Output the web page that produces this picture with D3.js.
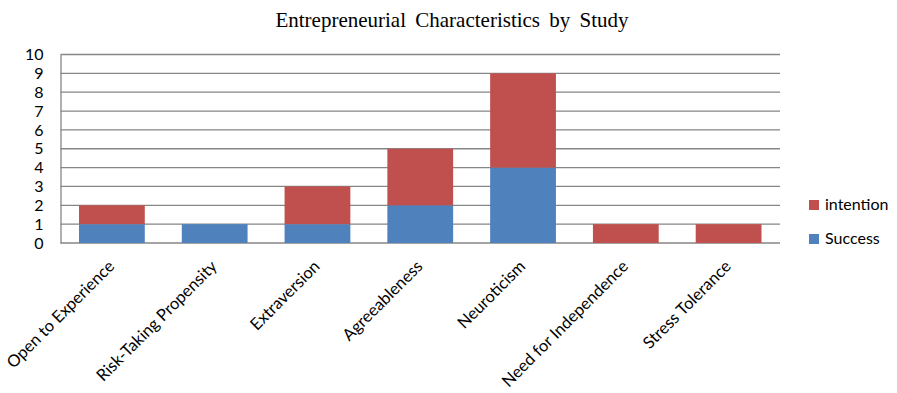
<!DOCTYPE html>
<html>
<head>
<meta charset="utf-8">
<script src="https://cdn.jsdelivr.net/npm/d3@7"></script>
<style>
  body { margin: 0; background: #fff; }
  text { font-family: Lato, "Liberation Sans", sans-serif; fill: #000; }
</style>
</head>
<body>
<div id="chart"></div>
<script>
// data
const categories = [
  "Open to Experience",
  "Risk-Taking Propensity",
  "Extraversion",
  "Agreeableness",
  "Neuroticism",
  "Need for Independence",
  "Stress Tolerance",
];
const success = [1, 1, 1, 2, 4, 0, 0];
const intention = [1, 0, 2, 3, 5, 1, 1];
const yTicks = [0, 1, 2, 3, 4, 5, 6, 7, 8, 9, 10];
const seriesNames = ["Success", "intention"];

// layout
const width = 897;
const height = 393;
const margin = { top: 54.5, right: 117, bottom: 150, left: 60.5 };
const plotWidth = width - margin.left - margin.right;
const plotHeight = height - margin.top - margin.bottom;

const colors = { Success: "#4F81BD", intention: "#C0504D" };

const svg = d3
  .select("#chart")
  .append("svg")
  .attr("width", width)
  .attr("height", height);

// title
svg
  .append("text")
  .attr("x", 452)
  .attr("y", 27)
  .attr("text-anchor", "middle")
  .style("font-family", "'Liberation Serif', 'Times New Roman', serif")
  .style("font-size", "21px")
  .style("word-spacing", "4px")
  .text("Entrepreneurial Characteristics by Study");

const g = svg
  .append("g")
  .attr("transform", `translate(${margin.left},${margin.top})`);

// scales
const xScale = d3
  .scaleBand()
  .domain(categories)
  .range([0, plotWidth])
  .paddingInner(0.36)
  .paddingOuter(0.18);

const yScale = d3.scaleLinear().domain([0, 10]).range([plotHeight, 0]);

// gridlines
g.append("g")
  .selectAll("line")
  .data(yTicks)
  .join("line")
  .attr("x1", 0)
  .attr("x2", plotWidth)
  .attr("y1", (d) => yScale(d))
  .attr("y2", (d) => yScale(d))
  .attr("stroke", "#868686")
  .attr("stroke-width", 1.3);

// y axis
const yAxisG = g
  .append("g")
  .call(d3.axisLeft(yScale).tickValues(yTicks).tickSize(0).tickPadding(17));
yAxisG.select(".domain").attr("stroke", "#868686").attr("stroke-width", 1.3);
yAxisG
  .selectAll("text")
  .style("font-family", "Lato, sans-serif")
  .style("font-size", "16px");

// stacked bars
const rows = categories.map((c, i) => ({
  category: c,
  Success: success[i],
  intention: intention[i],
}));
const stacked = d3.stack().keys(seriesNames)(rows);

g.append("g")
  .selectAll("g")
  .data(stacked)
  .join("g")
  .attr("fill", (d) => colors[d.key])
  .selectAll("rect")
  .data((d) => d.filter((p) => p[1] - p[0] > 0))
  .join("rect")
  .attr("x", (d) => xScale(d.data.category))
  .attr("width", xScale.bandwidth())
  .attr("y", (d) => yScale(d[1]))
  .attr("height", (d) => yScale(d[0]) - yScale(d[1]));

// x labels, rotated
g.append("g")
  .selectAll("text")
  .data(categories)
  .join("text")
  .attr(
    "transform",
    (d) =>
      `translate(${xScale(d) + xScale.bandwidth() / 2 - 5},${plotHeight + 16}) rotate(-45)`
  )
  .attr("text-anchor", "end")
  .attr("dy", "0.72em")
  .style("font-size", "16.5px")
  .text((d) => d);

// legend
const legend = svg
  .append("g")
  .attr("transform", "translate(809,200)");
const legendItems = ["intention", "Success"];
const li = legend
  .selectAll("g")
  .data(legendItems)
  .join("g")
  .attr("transform", (d, i) => `translate(0,${i * 34})`);
li.append("rect")
  .attr("width", 10)
  .attr("height", 10)
  .attr("fill", (d) => colors[d]);
li.append("text")
  .attr("x", 16)
  .attr("y", 10)
  .style("font-size", "16px")
  .text((d) => d);
</script>
</body>
</html>
